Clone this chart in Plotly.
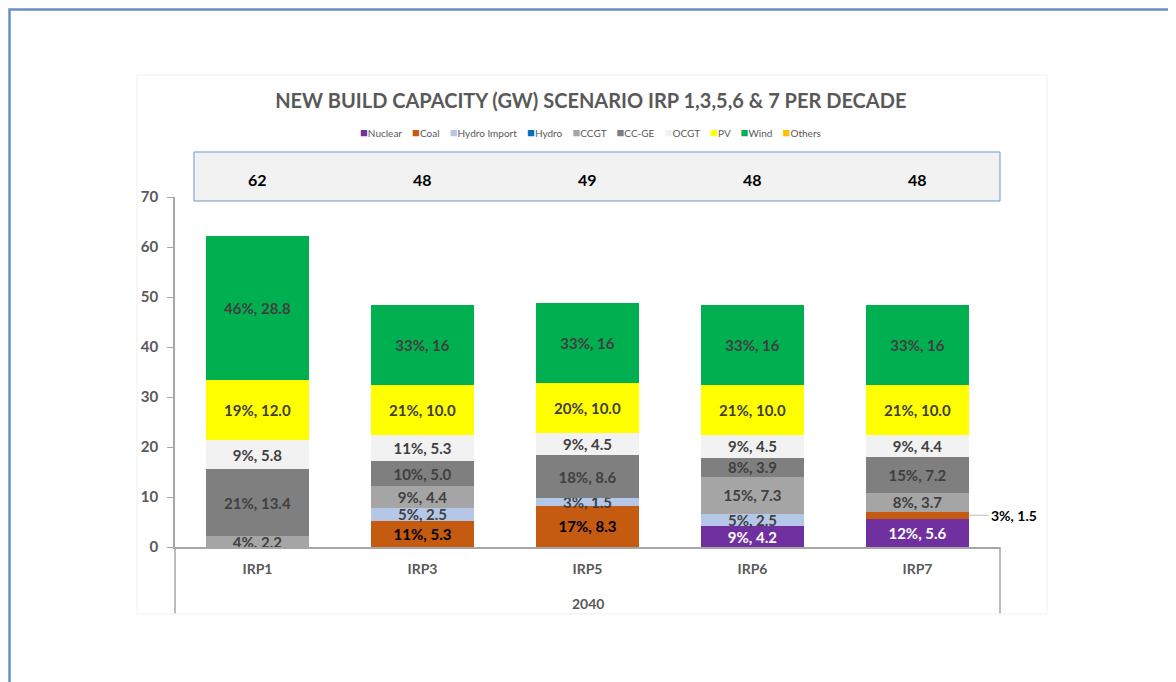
import plotly.graph_objects as go

categories = ["IRP1", "IRP3", "IRP5", "IRP6", "IRP7"]
group_label = "2040"
totals = [62, 48, 49, 48, 48]

series_names = ["Nuclear", "Coal", "Hydro Import", "Hydro", "CCGT", "CC-GE", "OCGT", "PV", "Wind", "Others"]
colors = ["#7030a0", "#c55a11", "#b4c7e7", "#0070c0", "#a5a5a5", "#7f7f7f", "#f2f2f2", "#ffff00", "#00b050", "#ffc000"]
label_colors = ["#ffffff", "#000000", "#404040", "#404040", "#404040", "#404040", "#404040", "#404040", "#404040", "#404040"]

nuclear = [None, None, None, 4.2, 5.6]
coal = [None, 5.3, 8.3, None, 1.5]
hydro_import = [None, 2.5, 1.5, 2.5, None]
hydro = [None, None, None, None, None]
ccgt = [2.2, 4.4, None, 7.3, 3.7]
ccge = [13.4, 5.0, 8.6, 3.9, 7.2]
ocgt = [5.8, 5.3, 4.5, 4.5, 4.4]
pv = [12.0, 10.0, 10.0, 10.0, 10.0]
wind = [28.8, 16, 16, 16, 16]
others = [None, None, None, None, None]

nuclear_pct = [None, None, None, 9, 12]
coal_pct = [None, 11, 17, None, 3]
hydro_import_pct = [None, 5, 3, 5, None]
hydro_pct = [None, None, None, None, None]
ccgt_pct = [4, 9, None, 15, 8]
ccge_pct = [21, 10, 18, 8, 15]
ocgt_pct = [9, 11, 9, 9, 9]
pv_pct = [19, 21, 20, 21, 21]
wind_pct = [46, 33, 33, 33, 33]
others_pct = [None, None, None, None, None]

values = [nuclear, coal, hydro_import, hydro, ccgt, ccge, ocgt, pv, wind, others]
pcts = [nuclear_pct, coal_pct, hydro_import_pct, hydro_pct, ccgt_pct, ccge_pct, ocgt_pct, pv_pct, wind_pct, others_pct]

# labels placed outside the bar with a leader line: (series, category)
outside_labels = [("Coal", "IRP7")]

BAR_WIDTH = 0.62
FONT = "Lato"
GREY = "#595959"
AXIS = "#a6a6a6"

fig = go.Figure()
for name, col, lcol, vals, pc in zip(series_names, colors, label_colors, values, pcts):
    texts = []
    for cat, v, p in zip(categories, vals, pc):
        if v is None or (name, cat) in outside_labels:
            texts.append("")
        else:
            vt = f"{v:g}" if name == "Wind" else f"{v:.1f}"
            texts.append(f"{p}%, {vt}")
    fig.add_trace(go.Bar(
        name=name, x=categories, y=vals, marker=dict(color=col, line=dict(width=0)),
        text=texts, textposition="inside", insidetextanchor="middle", textangle=0,
        constraintext="none",
        textfont=dict(family=FONT, size=15, color=lcol, weight="bold"),
        hoverinfo="skip", showlegend=False,
    ))

# outside labels with leader line
for sname, cat in outside_labels:
    si = series_names.index(sname)
    ci = categories.index(cat)
    base = sum((values[k][ci] or 0) for k in range(si))
    v = values[si][ci]
    fig.add_annotation(
        x=ci + BAR_WIDTH / 2, y=base + v / 2, xref="x", yref="y",
        text=f"<b>{pcts[si][ci]}%, {v:.1f}</b>", showarrow=True, arrowhead=0,
        arrowcolor="#bfbfbf", arrowwidth=1, ax=20, ay=0, xanchor="left",
        font=dict(family=FONT, size=14, color="#000000"),
    )

# totals box annotations
for i, t in enumerate(totals):
    fig.add_annotation(x=i, y=1.0514, xref="x", yref="paper", yanchor="middle", text=f"<b>{t}</b>",
                       showarrow=False, font=dict(family=FONT, size=16, color="#000000"))

fig.add_annotation(x=0.5006, y=-0.16, xref="paper", yref="paper", yanchor="middle",
                   text=f"<b>{group_label}</b>",
                   showarrow=False, font=dict(family=FONT, size=14, color=GREY))

# compact legend (Excel style: small square right before the name)
legend_text = "&nbsp;&nbsp;&nbsp;&nbsp;".join(
    f'<span style="color:{c};font-size:13px">■</span>{n}' for n, c in zip(series_names, colors))
fig.add_annotation(x=0.504, y=1.186, xref="paper", yref="paper", xanchor="center", yanchor="middle",
                   text=legend_text, showarrow=False, font=dict(family=FONT, size=10, color=GREY))

shapes = [
    # outer chart frame
    dict(type="rect", xref="paper", yref="paper", x0=-0.2006, x1=1.3, y0=-0.6, y1=1.5357,
         line=dict(color="#6590c8", width=2.5), fillcolor="rgba(0,0,0,0)", layer="below"),
    # faint plot-area frame
    dict(type="rect", xref="paper", yref="paper", x0=-0.046, x1=1.057, y0=-0.191, y1=1.349,
         line=dict(color="#f0f0f0", width=1), fillcolor="rgba(0,0,0,0)", layer="below"),
    # totals box
    dict(type="rect", xref="paper", yref="paper", x0=0.023, x1=1.0, y0=0.9886, y1=1.1286,
         line=dict(color="#6f97c8", width=1), fillcolor="#f2f2f2", layer="below"),
    # category box lines
    dict(type="line", xref="paper", yref="paper", x0=0, x1=0, y0=0, y1=-0.189,
         line=dict(color=AXIS, width=1.5)),
    dict(type="line", xref="paper", yref="paper", x0=1, x1=1, y0=0, y1=-0.189,
         line=dict(color=AXIS, width=1.5)),
]

fig.update_layout(
    width=1168, height=674,
    margin=dict(l=167, r=176, t=189, b=135),
    barmode="stack", bargap=1 - BAR_WIDTH,
    paper_bgcolor="white", plot_bgcolor="white",
    font=dict(family=FONT, color=GREY),
    title=dict(text="<b>NEW BUILD CAPACITY (GW) SCENARIO IRP 1,3,5,6 &amp; 7 PER DECADE</b>",
               x=0.504, xref="paper", xanchor="center", y=1 - 93 / 674, yref="container",
               yanchor="middle", font=dict(family=FONT, size=20, color=GREY)),
    xaxis=dict(type="category", range=[-0.5, 4.5], showline=True, linecolor=AXIS, linewidth=1.5,
               ticks="", showgrid=False,
               tickfont=dict(family=FONT, size=14, color=GREY, weight="bold"),
               ticklabelstandoff=8),
    yaxis=dict(range=[0, 70], dtick=10, showline=True, linecolor=AXIS, linewidth=1.5,
               ticks="outside", ticklen=6, tickcolor=AXIS, showgrid=False, zeroline=False,
               tickfont=dict(family=FONT, size=15, color=GREY, weight="bold"), ticklabelstandoff=6),
    shapes=shapes,
    showlegend=False,
)

fig.write_html("out.html")
